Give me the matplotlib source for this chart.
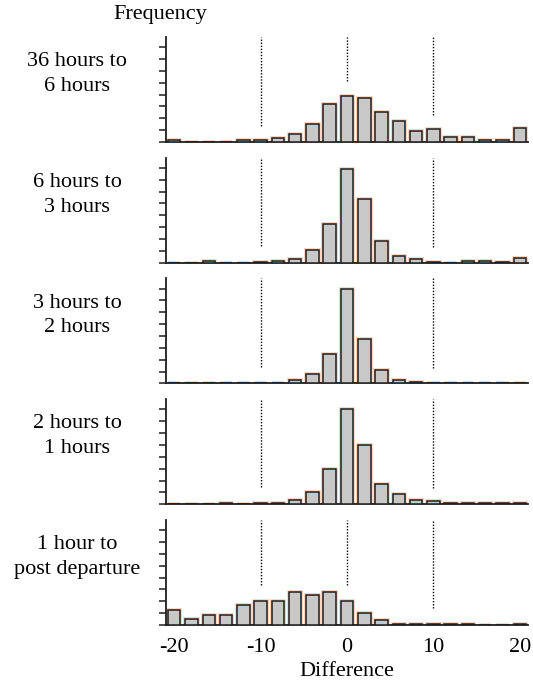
import numpy as np
import matplotlib
matplotlib.use("Agg")
from matplotlib import pyplot as plt

plt.rcParams['font.family'] = ['Liberation Serif', 'DejaVu Serif']
plt.rcParams['axes.unicode_minus'] = False

# bin centres of the histogram (difference)
bins = [-20, -18, -16, -14, -12, -10, -8, -6, -4, -2, 0, 2, 4, 6, 8, 10, 12, 14, 16, 18, 20]

panel_labels = ["36 hours to\n6 hours", "6 hours to\n3 hours", "3 hours to\n2 hours",
                "2 hours to\n1 hours", "1 hour to\npost departure"]

freq_36_6 = [1.4, 0, 0, 0, 1.4, 1.4, 3.3, 6.9, 15.3, 31.9, 38.6, 36.7, 25.3, 17.8, 9.2, 11.1, 4.2, 4.2, 1.7, 1.7, 11.9]
freq_6_3 = [0, 0, 1.4, 0, 0, 0.8, 1.7, 3.1, 10.7, 32.8, 79.4, 53.7, 18.6, 5.6, 2.8, 0.8, 0, 1.4, 1.4, 0.8, 3.7]
freq_3_2 = [0, 0, 0, 0, 0, 0.5, 0.5, 3.1, 8.0, 24.5, 80.0, 37.6, 11.7, 3.1, 1.1, 0.5, 0.5, 0.5, 0.5, 0.5, 0.5]
freq_2_1 = [0, 0, 0, 0.9, 0, 0.9, 0.9, 3.4, 10.6, 30.0, 80.0, 49.7, 17.1, 8.6, 3.4, 2.9, 0.9, 0.9, 0.9, 0.9, 0.9]
freq_1_post = [12.6, 5.1, 8.3, 8.3, 17.1, 20.6, 20.6, 28.0, 24.9, 28.0, 20.3, 10.3, 4.3, 1.1, 1.1, 0.6, 0.6, 0.6, 0, 0, 1.1]

# dotted guide lines at -10, 0, 10: lower end of each line (None = no line)
guide_x = [-10, 0, 10]
guide_low = [[13.6, 51.0, 22.8],
             [14.0, None, 13.6],
             [13.7, None, 13.0],
             [14.3, None, 13.4],
             [33.4, 33.4, 14.3]]

x_ticks = [-20, -10, 0, 10, 20]

all_freq = [freq_36_6, freq_6_3, freq_3_2, freq_2_1, freq_1_post]

W, H = 533, 683
fig = plt.figure(figsize=(W / 100, H / 100), dpi=100)

ymax = 88.5
left_px, right_px = 166, 528
for i, freq in enumerate(all_freq):
    top_px = 37 + 120.75 * i
    h_px = 105
    ax = fig.add_axes([left_px / W, 1 - (top_px + h_px) / H, (right_px - left_px) / W, h_px / H])

    # soft orange halo under the bars, then the bars themselves
    ax.bar(bins, freq, width=1.45, color='none', edgecolor='#f9cdb6', linewidth=2.6, zorder=2)
    ax.bar(bins, freq, width=1.45, color='#c8c8c8', edgecolor='#1e1e1e', linewidth=1.1, zorder=3)

    for gx, low in zip(guide_x, guide_low[i]):
        if low is not None:
            ax.vlines(gx, low, ymax, colors='black', linestyles=(0, (1, 1.2)), linewidth=1.0, zorder=1)

    ax.set_xlim(-20.95, 20.95)
    ax.set_ylim(0, ymax)
    ax.set_yticks(np.arange(0, 81, 10))
    ax.set_yticklabels([])
    ax.tick_params(axis='y', direction='out', length=5, width=1.1, color='#1e1e1e')
    ax.tick_params(axis='x', length=0, labelsize=16, pad=9)
    ax.set_xticks(x_ticks)
    if i < len(all_freq) - 1:
        ax.set_xticklabels([])
    else:
        ax.set_xticklabels([str(t) for t in x_ticks])
    for side in ['top', 'right']:
        ax.spines[side].set_visible(False)
    ax.spines['left'].set_linewidth(1.3)
    ax.spines['bottom'].set_linewidth(1.3)
    ax.spines['left'].set_color('#1e1e1e')
    ax.spines['bottom'].set_color('#1e1e1e')

    fig.text(77 / W, 1 - (top_px + 37) / H, panel_labels[i], ha='center', va='center',
             fontsize=16, linespacing=1.4, multialignment='center')

fig.text(160 / W, 1 - 15 / H, "Frequency", ha='center', va='center', fontsize=16)
fig.text(347 / W, 1 - 672 / H, "Difference", ha='center', va='center', fontsize=16)

fig.savefig("out.png", dpi=100)
